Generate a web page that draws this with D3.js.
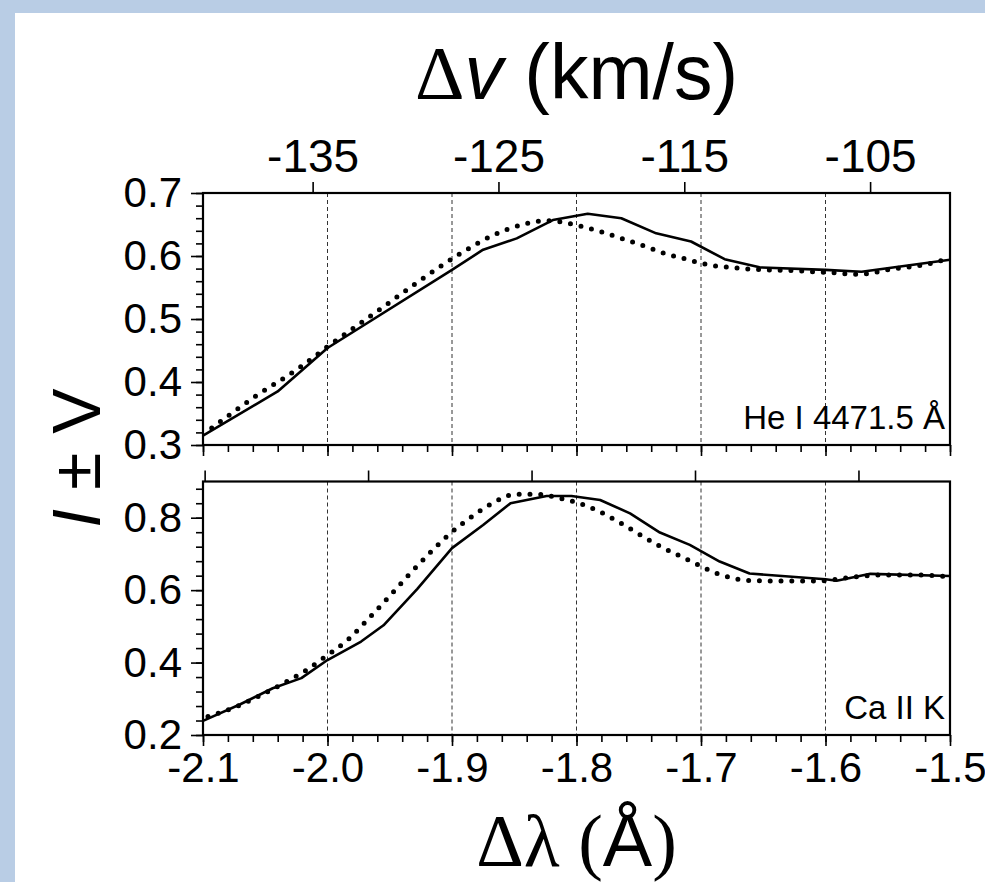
<!DOCTYPE html>
<html>
<head>
<meta charset="utf-8">
<script src="https://cdn.jsdelivr.net/npm/d3@7"></script>
<style>
  body { margin: 0; background: #b9cde5; }
  svg { display: block; }
</style>
</head>
<body>
<svg id="chart" width="985" height="882"></svg>
<script>
// ---- data ----
// He I 4471.5 A panel
var heWaveSolid = [-2.1, -2.04, -2.0, -1.9, -1.875, -1.848, -1.819, -1.791, -1.764, -1.736, -1.708, -1.681, -1.653, -1.6, -1.571, -1.5];
var heSolid     = [0.315, 0.385, 0.454, 0.578, 0.61, 0.628, 0.657, 0.667, 0.66, 0.636, 0.623, 0.595, 0.582, 0.578, 0.575, 0.594];
var heWaveDot = [-2.093, -2.058, -2.023, -1.998, -1.963, -1.928, -1.894, -1.868, -1.841, -1.824, -1.798, -1.781, -1.764, -1.746, -1.729, -1.712, -1.694, -1.677, -1.659, -1.63, -1.599, -1.573, -1.547, -1.521, -1.503];
var heDot     = [0.327, 0.377, 0.422, 0.459, 0.508, 0.558, 0.603, 0.632, 0.651, 0.656, 0.648, 0.639, 0.628, 0.616, 0.604, 0.595, 0.586, 0.582, 0.579, 0.577, 0.574, 0.571, 0.579, 0.586, 0.595];

// Ca II K panel
var caWaveSolid = [-2.1, -2.07, -2.044, -2.021, -2.0, -1.973, -1.955, -1.928, -1.9, -1.875, -1.853, -1.824, -1.804, -1.781, -1.757, -1.733, -1.709, -1.685, -1.661, -1.6, -1.591, -1.564, -1.5];
var caSolid     = [0.239, 0.285, 0.329, 0.357, 0.407, 0.458, 0.503, 0.603, 0.716, 0.78, 0.84, 0.86, 0.86, 0.849, 0.812, 0.759, 0.725, 0.679, 0.646, 0.63, 0.626, 0.645, 0.639];
var caWaveDot = [-2.096, -2.07, -2.044, -2.018, -2.001, -1.983, -1.966, -1.95, -1.934, -1.918, -1.902, -1.884, -1.867, -1.849, -1.832, -1.815, -1.798, -1.781, -1.763, -1.736, -1.71, -1.684, -1.658, -1.633, -1.607, -1.58, -1.555, -1.528, -1.502];
var caDot     = [0.251, 0.283, 0.327, 0.377, 0.418, 0.465, 0.525, 0.584, 0.645, 0.702, 0.755, 0.803, 0.841, 0.865, 0.865, 0.855, 0.84, 0.816, 0.782, 0.727, 0.683, 0.642, 0.626, 0.625, 0.625, 0.635, 0.642, 0.642, 0.637];

// axes
var waveDomain = [-2.1, -1.5];
var waveTicks = [-2.1, -2.0, -1.9, -1.8, -1.7, -1.6, -1.5];
var gridWaves = [-2.0, -1.9, -1.8, -1.7, -1.6];
var heVelDomain = [-140.9, -100.7];
var heVelTicks = [-135, -125, -115, -105];
var caVelDomain = [-160.1, -114.4];
var caVelTicks = [-160, -150, -140, -130, -120];
var heYDomain = [0.3, 0.7];
var heYTicks = [0.3, 0.4, 0.5, 0.6, 0.7];
var caYDomain = [0.2, 0.9];
var caYTicks = [0.2, 0.4, 0.6, 0.8];

var W = 985, H = 882;
var left = 203, right = 950;
var sans = "'Liberation Sans', Arial, sans-serif";
var serif = "'Liberation Serif', 'Times New Roman', serif";

var svg = d3.select("#chart");

svg.append("rect")
  .attr("x", 15).attr("y", 13)
  .attr("width", W - 15).attr("height", H - 13)
  .attr("fill", "#fff");

var x = d3.scaleLinear().domain(waveDomain).range([left, right]);

function steps(a, b, s) {
  var n = Math.round((b - a) / s);
  return d3.range(n + 1).map(function(i) { return +(a + i * s).toFixed(4); });
}
var waveMinor = steps(-2.1, -1.5, 0.02);

function styleAxis(g, size) {
  g.select(".domain").remove();
  g.selectAll(".tick line").attr("stroke", "#000").attr("stroke-width", 1.6);
  g.selectAll(".tick text")
    .attr("fill", "#000")
    .style("font-family", sans)
    .style("font-size", size + "px");
}

function drawPanel(p) {
  var y = d3.scaleLinear().domain(p.yDomain).range([p.bottom, p.top]);
  var g = svg.append("g");

  // dashed vertical guides
  g.selectAll(".grid")
    .data(gridWaves)
    .enter().append("line")
    .attr("x1", function(d) { return x(d); })
    .attr("x2", function(d) { return x(d); })
    .attr("y1", p.top).attr("y2", p.bottom)
    .attr("stroke", "#333")
    .attr("stroke-width", 1)
    .attr("stroke-dasharray", "4,3");

  // left axis
  g.append("g").attr("transform", "translate(" + left + ",0)")
    .call(d3.axisLeft(y).tickValues(p.yMinor).tickSize(7).tickFormat(""))
    .call(styleAxis, 42);
  g.append("g").attr("transform", "translate(" + left + ",0)")
    .call(d3.axisLeft(y).tickValues(p.yTicks).tickSize(12).tickPadding(9)
      .tickFormat(function(d) { return d.toFixed(1); }))
    .call(styleAxis, 42);

  // bottom axis
  g.append("g").attr("transform", "translate(0," + p.bottom + ")")
    .call(d3.axisBottom(x).tickValues(waveMinor).tickSize(7).tickFormat(""))
    .call(styleAxis, 42);
  g.append("g").attr("transform", "translate(0," + p.bottom + ")")
    .call(d3.axisBottom(x).tickValues(waveTicks).tickSize(11).tickPadding(6)
      .tickFormat(function(d) { return p.xLabels ? d.toFixed(1) : ""; }))
    .call(styleAxis, 42);

  // top axis in velocity
  var v = d3.scaleLinear().domain(p.velDomain).range([left, right]);
  g.append("g").attr("transform", "translate(0," + p.top + ")")
    .call(d3.axisTop(v).tickValues(p.velTicks).tickSize(11).tickPadding(10)
      .tickFormat(function(d) { return p.velLabels ? String(d) : ""; }))
    .call(styleAxis, 46);

  var line = d3.line()
    .x(function(d) { return x(d[0]); })
    .y(function(d) { return y(d[1]); });

  g.append("path")
    .datum(d3.zip(p.waveDot, p.dot))
    .attr("d", line.curve(d3.curveMonotoneX))
    .attr("fill", "none")
    .attr("stroke", "#000")
    .attr("stroke-width", 5)
    .attr("stroke-linecap", "round")
    .attr("stroke-dasharray", "0,10.8");

  g.append("path")
    .datum(d3.zip(p.waveSolid, p.solid))
    .attr("d", line.curve(d3.curveLinear))
    .attr("fill", "none")
    .attr("stroke", "#000")
    .attr("stroke-width", 2.6)
    .attr("stroke-linejoin", "round");

  // frame
  g.append("rect")
    .attr("x", left).attr("y", p.top)
    .attr("width", right - left).attr("height", p.bottom - p.top)
    .attr("fill", "none")
    .attr("stroke", "#000")
    .attr("stroke-width", 2.2);

  g.append("text")
    .attr("x", right - 5).attr("y", p.bottom - 16)
    .attr("text-anchor", "end")
    .style("font-family", sans)
    .style("font-size", "33px")
    .text(p.label);
}

drawPanel({
  top: 193, bottom: 445,
  yDomain: heYDomain, yTicks: heYTicks, yMinor: steps(0.3, 0.7, 0.02),
  velDomain: heVelDomain, velTicks: heVelTicks, velLabels: true,
  xLabels: false,
  waveSolid: heWaveSolid, solid: heSolid, waveDot: heWaveDot, dot: heDot,
  label: "He I 4471.5 Å"
});

drawPanel({
  top: 481.5, bottom: 735,
  yDomain: caYDomain, yTicks: caYTicks, yMinor: steps(0.2, 0.88, 0.04),
  velDomain: caVelDomain, velTicks: caVelTicks, velLabels: false,
  xLabels: true,
  waveSolid: caWaveSolid, solid: caSolid, waveDot: caWaveDot, dot: caDot,
  label: "Ca II K"
});

// top title
var t1 = svg.append("text")
  .attr("x", (left + right) / 2).attr("y", 99)
  .attr("text-anchor", "middle")
  .style("font-family", sans)
  .style("font-size", "77px");
t1.append("tspan").style("font-family", serif).text("Δ");
t1.append("tspan").style("font-style", "italic").text("v");
t1.append("tspan").text(" (km/s)");

// bottom title
var t2 = svg.append("text")
  .attr("x", (left + right) / 2).attr("y", 866)
  .attr("text-anchor", "middle")
  .style("font-family", serif)
  .style("font-size", "74px");
t2.append("tspan").text("Δλ (");
t2.append("tspan").style("font-family", sans).text("Å");
t2.append("tspan").text(")");

// y title
var t3 = svg.append("text")
  .attr("transform", "translate(100,458) rotate(-90)")
  .attr("text-anchor", "middle")
  .style("font-family", sans)
  .style("font-size", "68px");
t3.append("tspan").style("font-style", "italic").text("I");
t3.append("tspan").text(" ± ");
t3.append("tspan").text("V");
</script>
</body>
</html>
